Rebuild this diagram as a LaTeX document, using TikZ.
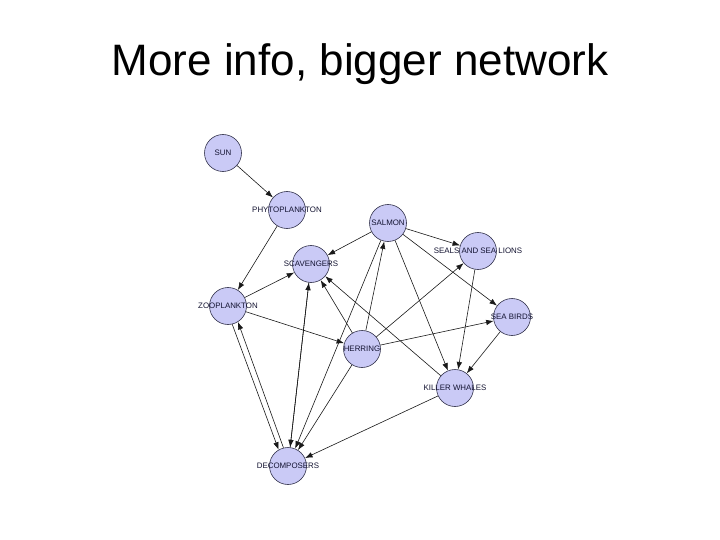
\documentclass[tikz,border=0pt]{standalone}
\usepackage{fontspec}
\setmainfont{Liberation Sans}
\usetikzlibrary{arrows.meta}
\definecolor{nodefill}{RGB}{202,202,246}
\definecolor{nodeline}{RGB}{50,50,75}
\definecolor{labtext}{RGB}{20,20,50}
\tikzset{
  x=1pt,y=-1pt,
  species/.style={circle,draw=nodeline,line width=0.6pt,fill=nodefill,minimum size=37pt,inner sep=0pt},
  lab/.style={text=labtext,font=\fontsize{7.9}{8}\selectfont,inner sep=0pt},
  flow/.style={draw=black!90,line width=0.6pt,-{Latex[length=7.5pt,width=5.5pt]}},
  titletext/.style={font=\fontsize{44}{50}\selectfont,anchor=base,inner sep=0pt}
}
\begin{document}
\begin{tikzpicture}
\useasboundingbox[fill=white] (0,0) rectangle (720,540);
\node[titletext] (title) at (360,76) {More info, bigger network};

\node[species,label={[lab]center:SUN}] (sun) at (223,153) {};
\node[species,label={[lab]center:PHYTOPLANKTON}] (phyto) at (287,210) {};
\node[species,label={[lab]center:SALMON}] (salmon) at (388,223) {};
\node[species,label={[lab]center:SEALS AND SEA LIONS}] (seals) at (478,251) {};
\node[species,label={[lab]center:SCAVENGERS}] (scav) at (311,264) {};
\node[species,label={[lab]center:ZOOPLANKTON}] (zoo) at (228,306) {};
\node[species,label={[lab]center:SEA BIRDS}] (birds) at (512,317) {};
\node[species,label={[lab]center:HERRING}] (herring) at (362,349) {};
\node[species,label={[lab]center:KILLER WHALES}] (killer) at (455,388) {};
\node[species,label={[lab]center:DECOMPOSERS}] (decomp) at (288,466) {};

\draw[flow] (sun) -- (phyto);
\draw[flow] (phyto) -- (zoo);
\draw[flow] (zoo) -- (scav);
\draw[flow] (zoo) -- (herring);
\draw[flow] (zoo.-77) -- (decomp.120);
\draw[flow] (decomp.104) -- (zoo.-58);
\draw[flow] (scav) -- (decomp);
\draw[flow] (decomp) -- (scav);
\draw[flow] (salmon) -- (scav);
\draw[flow] (salmon) -- (seals);
\draw[flow] (salmon) -- (birds);
\draw[flow] (salmon) -- (killer);
\draw[flow] (salmon) -- (decomp);
\draw[flow] (herring) -- (salmon);
\draw[flow] (herring) -- (scav);
\draw[flow] (herring) -- (seals);
\draw[flow] (herring) -- (birds);
\draw[flow] (herring) -- (decomp);
\draw[flow] (seals) -- (killer);
\draw[flow] (birds) -- (killer);
\draw[flow] (killer) -- (scav);
\draw[flow] (killer) -- (decomp);
\end{tikzpicture}
\end{document}
